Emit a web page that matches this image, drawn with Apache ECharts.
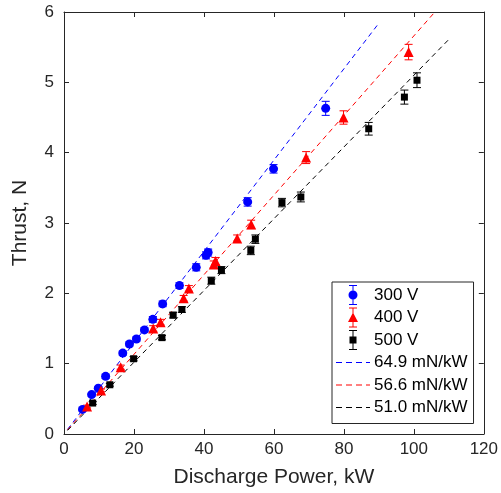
<!DOCTYPE html>
<html>
<head>
<meta charset="utf-8">
<script src="https://cdn.jsdelivr.net/npm/echarts@6/dist/echarts.min.js"></script>
<style>
  html, body { margin: 0; padding: 0; background: #fff; }
  #chart { width: 501px; height: 493px; }
</style>
</head>
<body>
<div id="chart"></div>
<script>
// 300 V
const x300 = [5.3, 7.9, 9.8, 11.9, 16.8, 18.7, 20.7, 23.0, 25.4, 28.2, 33.0, 37.8, 40.6, 41.2, 52.5, 59.9, 74.8]
const y300 = [0.35, 0.56, 0.65, 0.82, 1.15, 1.28, 1.35, 1.48, 1.63, 1.85, 2.11, 2.37, 2.54, 2.58, 3.30, 3.77, 4.63]
const e300 = [0.02, 0.02, 0.02, 0.03, 0.03, 0.03, 0.03, 0.03, 0.04, 0.04, 0.04, 0.05, 0.05, 0.05, 0.06, 0.06, 0.10]
// 400 V
const x400 = [6.6, 10.6, 16.2, 25.5, 27.6, 34.2, 35.7, 42.8, 43.3, 49.5, 53.5, 69.2, 79.9, 98.5]
const y400 = [0.39, 0.62, 0.95, 1.50, 1.59, 1.93, 2.07, 2.41, 2.46, 2.78, 2.98, 3.93, 4.50, 5.43]
const e400 = [0.02, 0.02, 0.03, 0.04, 0.04, 0.04, 0.04, 0.05, 0.05, 0.05, 0.06, 0.085, 0.095, 0.11]
// 500 V
const x500 = [8.2, 13.1, 19.9, 28.0, 31.2, 33.7, 42.1, 45.0, 53.4, 54.7, 62.3, 67.7, 87.1, 97.3, 100.9]
const y500 = [0.44, 0.70, 1.07, 1.37, 1.69, 1.77, 2.18, 2.33, 2.61, 2.77, 3.29, 3.37, 4.34, 4.79, 5.03]
const e500 = [0.02, 0.02, 0.03, 0.03, 0.04, 0.04, 0.05, 0.05, 0.06, 0.06, 0.06, 0.07, 0.09, 0.10, 0.105]

// linear fits, thrust/power in mN/kW, drawn between start and end power
const fitSlopes = [64.9, 56.6, 51.0]
const fitStart = [1, 1, 1]
const fitEnd = [90, 106, 110]

const xTicks = [0, 20, 40, 60, 80, 100, 120]
const yTicks = [0, 1, 2, 3, 4, 5, 6]

const seriesNames = ['300 V', '400 V', '500 V']
const fitNames = ['64.9 mN/kW', '56.6 mN/kW', '51.0 mN/kW']
const colors = ['#0000ff', '#ff0000', '#000000']

const axisColor = '#262626'
const font = 'Liberation Sans, Arial, Helvetica, sans-serif'

function rows(xs, ys, es) {
  return xs.map((x, i) => es ? [x, ys[i], es[i]] : [x, ys[i]])
}

// vertical error bar with caps
function errorBar(params, api) {
  const x = api.value(0)
  const y = api.value(1)
  const e = api.value(2)
  const hi = api.coord([x, y + e])
  const lo = api.coord([x, y - e])
  const w = 4
  const style = { stroke: api.visual('color'), lineWidth: 1 }
  return {
    type: 'group',
    children: [
      { type: 'line', shape: { x1: hi[0], y1: hi[1], x2: lo[0], y2: lo[1] }, style },
      { type: 'line', shape: { x1: hi[0] - w, y1: hi[1], x2: hi[0] + w, y2: hi[1] }, style },
      { type: 'line', shape: { x1: lo[0] - w, y1: lo[1], x2: lo[0] + w, y2: lo[1] }, style }
    ]
  }
}

// legend icons, drawn in a 34x20 box (empty subpaths at the corners pin the box)
const box = 'M0 0 Z M34 20 Z '
const bar = 'M16.5 0 h1 v20 h-1 Z M13 0 h8 v1 h-8 Z M13 19 h8 v1 h-8 Z '
const dashes = 'M0 9.5 h6 v1 h-6 Z M10 9.5 h6 v1 h-6 Z M20 9.5 h6 v1 h-6 Z M30 9.5 h4 v1 h-4 Z'
const legendIcons = [
  'path://' + box + bar + 'M17 5.5 A4.5 4.5 0 1 1 17 14.5 A4.5 4.5 0 1 1 17 5.5 Z',
  'path://' + box + bar + 'M17 5 L22 14.5 L12 14.5 Z',
  'path://' + box + bar + 'M13.5 6.5 h7 v7 h-7 Z',
  'path://' + box + dashes
]

const markers = ['circle', 'triangle', 'rect']
const markerSizes = [9, 10, 7]
const pointData = [
  [x300, y300, e300],
  [x400, y400, e400],
  [x500, y500, e500]
]

const series = []
fitSlopes.forEach((s, i) => {
  series.push({
    name: fitNames[i],
    type: 'line',
    symbol: 'none',
    silent: true,
    z: 1,
    lineStyle: { color: colors[i], width: 1, type: [5, 4] },
    itemStyle: { color: colors[i] },
    data: [
      [fitStart[i], s * fitStart[i] / 1000],
      [fitEnd[i], s * fitEnd[i] / 1000]
    ]
  })
})
pointData.forEach((d, i) => {
  series.push({
    name: seriesNames[i],
    type: 'custom',
    renderItem: errorBar,
    z: 2,
    itemStyle: { color: colors[i] },
    encode: { x: 0, y: 1 },
    data: rows(d[0], d[1], d[2])
  })
  series.push({
    name: seriesNames[i],
    type: 'scatter',
    symbol: markers[i],
    symbolSize: markerSizes[i],
    z: 3,
    itemStyle: { color: colors[i], opacity: 1 },
    data: rows(d[0], d[1])
  })
})

const axisCommon = {
  type: 'value',
  axisLine: { show: true, onZero: false, lineStyle: { color: axisColor, width: 1 } },
  axisTick: { show: true, inside: true, length: 5, lineStyle: { color: axisColor } },
  splitLine: { show: false },
  axisLabel: { color: axisColor, fontSize: 17, fontFamily: font }
}

const chart = echarts.init(document.getElementById('chart'))
const option = {
  animation: false,
  backgroundColor: '#fff',
  textStyle: { fontFamily: font },
  grid: { left: 64, right: 14, top: 12, bottom: 58 },
  legend: {
    orient: 'vertical',
    left: 332,
    top: 282,
    width: 142,
    backgroundColor: '#fff',
    borderColor: axisColor,
    borderWidth: 1,
    borderRadius: 0,
    padding: [3, 6, 6, 4],
    itemWidth: 34,
    itemHeight: 20,
    itemGap: 2.5,
    textStyle: { color: '#000', fontSize: 17, fontFamily: font, padding: [0, 0, 0, -1] },
    data: [
      { name: seriesNames[0], icon: legendIcons[0] },
      { name: seriesNames[1], icon: legendIcons[1] },
      { name: seriesNames[2], icon: legendIcons[2] },
      { name: fitNames[0], icon: legendIcons[3] },
      { name: fitNames[1], icon: legendIcons[3] },
      { name: fitNames[2], icon: legendIcons[3] }
    ]
  },
  xAxis: [
    Object.assign({}, axisCommon, {
      min: xTicks[0],
      max: xTicks[xTicks.length - 1],
      interval: 20,
      name: 'Discharge Power, kW',
      nameLocation: 'middle',
      nameGap: 33,
      nameTextStyle: { color: axisColor, fontSize: 21, fontFamily: font },
      axisLabel: Object.assign({}, axisCommon.axisLabel, { margin: 7 })
    }),
    Object.assign({}, axisCommon, {
      position: 'top',
      min: xTicks[0],
      max: xTicks[xTicks.length - 1],
      interval: 20,
      axisLabel: { show: false }
    })
  ],
  yAxis: [
    Object.assign({}, axisCommon, {
      min: yTicks[0],
      max: yTicks[yTicks.length - 1],
      interval: 1,
      name: 'Thrust, N',
      nameLocation: 'middle',
      nameGap: 33,
      nameTextStyle: { color: axisColor, fontSize: 21, fontFamily: font },
      axisLabel: Object.assign({}, axisCommon.axisLabel, { margin: 10 })
    }),
    Object.assign({}, axisCommon, {
      position: 'right',
      min: yTicks[0],
      max: yTicks[yTicks.length - 1],
      interval: 1,
      axisLabel: { show: false }
    })
  ],
  series: series
}
chart.setOption(option, true)
</script>
</body>
</html>
